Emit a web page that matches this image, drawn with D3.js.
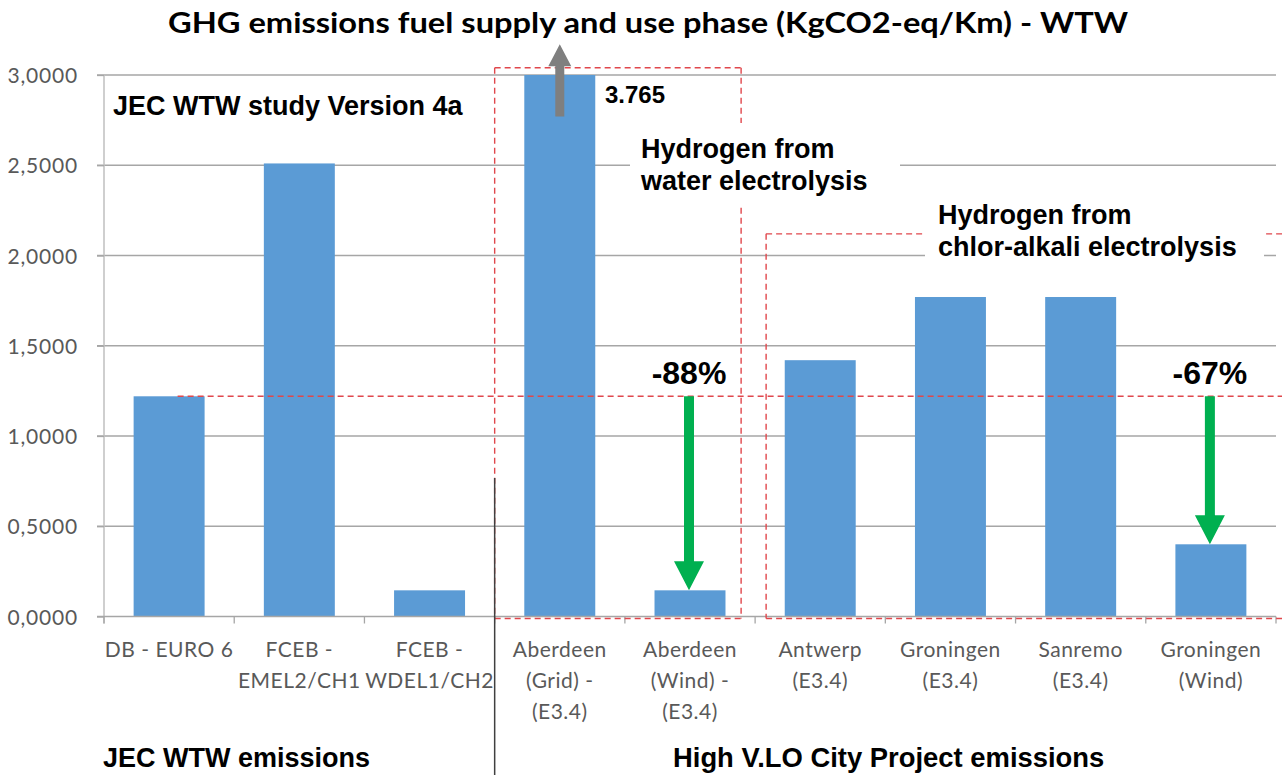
<!DOCTYPE html>
<html>
<head>
<meta charset="utf-8">
<script src="https://cdn.jsdelivr.net/npm/d3@7"></script>
<style>
  body { margin: 0; background: #fff; }
  svg { display: block; }
</style>
</head>
<body>
<div id="chart"></div>
<script>
// categories (label lines) and values
const categories = [
  ["DB - EURO 6"],
  ["FCEB -", "EMEL2/CH1"],
  ["FCEB -", "WDEL1/CH2"],
  ["Aberdeen", "(Grid) -", "(E3.4)"],
  ["Aberdeen", "(Wind) -", "(E3.4)"],
  ["Antwerp", "(E3.4)"],
  ["Groningen", "(E3.4)"],
  ["Sanremo", "(E3.4)"],
  ["Groningen", "(Wind)"]
]
const values = [1.22, 2.51, 0.145, 3.765, 0.145, 1.42, 1.77, 1.77, 0.40]
const yTicks = [0, 0.5, 1, 1.5, 2, 2.5, 3]

// reductions vs the diesel reference (DB - EURO 6)
const reference = 1.22
const reductions = [
  { index: 4, label: "-88%" },
  { index: 8, label: "-67%" }
]

const WIDTH = 1282
const HEIGHT = 775
const MARGIN = { LEFT: 104, RIGHT: 6, TOP: 75, BOTTOM: 158.5 }

const svg = d3.select("#chart").append("svg")
  .attr("width", WIDTH)
  .attr("height", HEIGHT)

const ids = categories.map((c, i) => "c" + i)

const x = d3.scaleBand()
  .domain(ids)
  .range([MARGIN.LEFT, WIDTH - MARGIN.RIGHT])
  .paddingInner(0.455)
  .paddingOuter(0.2275)

const y = d3.scaleLinear()
  .domain([0, 3])
  .range([HEIGHT - MARGIN.BOTTOM, MARGIN.TOP])

const step = x.step()
const bandEdge = i => MARGIN.LEFT + i * step
const y0 = y(0)

const locale = d3.formatLocale({ decimal: ",", thousands: ".", grouping: [3], currency: ["", ""] })
const fmt = locale.format(".4f")

const ARIAL = "'Liberation Sans', Arial, sans-serif"
const CALIBRI = "Lato, 'Open Sans', sans-serif"

// gridlines
svg.append("g")
  .selectAll("line")
  .data(yTicks.filter(d => d > 0))
  .enter().append("line")
  .attr("x1", MARGIN.LEFT - 7)
  .attr("x2", WIDTH - MARGIN.RIGHT)
  .attr("y1", d => y(d))
  .attr("y2", d => y(d))
  .attr("stroke", "#a6a6a6")
  .attr("stroke-width", 1.3)

// y axis
const yAxis = svg.append("g")
  .attr("transform", `translate(${MARGIN.LEFT},0)`)
  .call(d3.axisLeft(y).tickValues(yTicks).tickFormat(fmt).tickSize(7).tickPadding(19))
yAxis.select(".domain").attr("stroke", "#bfbfbf").attr("stroke-width", 1.5)
  .attr("d", `M0,${y(3)}V${y0 + 7}`)
yAxis.selectAll(".tick line").attr("stroke", "#a6a6a6").attr("stroke-width", 1.3)
yAxis.selectAll(".tick text")
  .attr("font-family", CALIBRI)
  .attr("font-size", "21px")
  .attr("letter-spacing", "0.8px")
  .attr("fill", "#595959")
  .attr("dy", "0.36em")

// bars
svg.append("g")
  .selectAll("rect")
  .data(values)
  .enter().append("rect")
  .attr("x", (d, i) => x(ids[i]))
  .attr("width", x.bandwidth())
  .attr("y", d => y(Math.min(d, 3)))
  .attr("height", d => y0 - y(Math.min(d, 3)))
  .attr("fill", "#5b9bd5")

// x axis
const xAxis = svg.append("g")
  .attr("transform", `translate(0,${y0})`)
xAxis.append("line")
  .attr("x1", MARGIN.LEFT - 7).attr("x2", WIDTH - MARGIN.RIGHT)
  .attr("stroke", "#a6a6a6").attr("stroke-width", 1.5)
xAxis.selectAll(".xtick")
  .data(d3.range(categories.length + 1))
  .enter().append("line")
  .attr("x1", i => bandEdge(i)).attr("x2", i => bandEdge(i))
  .attr("y1", 0).attr("y2", 7)
  .attr("stroke", "#a6a6a6").attr("stroke-width", 1.3)

const xLabels = xAxis.selectAll(".xlabel")
  .data(categories)
  .enter().append("text")
  .attr("text-anchor", "middle")
  .attr("font-family", CALIBRI)
  .attr("font-size", "21px")
  .attr("letter-spacing", "0.5px")
  .attr("fill", "#595959")
xLabels.selectAll("tspan")
  .data((d, i) => d.map(line => ({ line, i })))
  .enter().append("tspan")
  .attr("x", d => x(ids[d.i]) + x.bandwidth() / 2)
  .attr("y", (d, j) => 40 + j * 31)
  .text(d => d.line)

// red dashed guides
const red = { stroke: "#e0474c", "stroke-width": 1.4, "stroke-dasharray": "6,4" }
const dashed = (x1, y1, x2, y2) => {
  const l = svg.append("line").attr("x1", x1).attr("y1", y1).attr("x2", x2).attr("y2", y2)
  Object.entries(red).forEach(([k, v]) => l.attr(k, v))
  return l
}
const box1 = { left: bandEdge(3), right: bandEdge(5) - 14, top: y(3.04) }
const box2 = { left: bandEdge(5) + 11, right: WIDTH + 10, top: y(2.12) }
dashed(box1.left, box1.top, box1.right, box1.top)
dashed(box1.left, box1.top, box1.left, y0 + 2)
dashed(box1.right, box1.top, box1.right, y0 + 2)
dashed(box1.left, y0 + 2, box1.right, y0 + 2)
dashed(box2.left, box2.top, box2.right, box2.top)
dashed(box2.left, box2.top, box2.left, y0 + 2)
dashed(box2.left, y0 + 2, box2.right, y0 + 2)
dashed(x(ids[0]) + x.bandwidth() * 0.62, y(reference), WIDTH, y(reference))

// separator between the two groups
svg.append("line")
  .attr("x1", bandEdge(3)).attr("x2", bandEdge(3))
  .attr("y1", 478).attr("y2", HEIGHT)
  .attr("stroke", "#404040").attr("stroke-width", 1.5)

// text boxes with white background
const textBlock = (lines, tx, ty, size, pad) => {
  const g = svg.append("g")
  if (pad) {
    g.append("rect")
      .attr("x", pad.x1).attr("y", pad.y1)
      .attr("width", pad.x2 - pad.x1).attr("height", pad.y2 - pad.y1)
      .attr("fill", "#fff")
  }
  const t = g.append("text")
    .attr("font-family", ARIAL)
    .attr("font-weight", "bold")
    .attr("font-size", size + "px")
    .attr("fill", "#000")
  lines.forEach((line, j) => {
    t.append("tspan").attr("x", tx).attr("y", ty + j * 32).text(line)
  })
  return t
}

textBlock(["JEC WTW study Version 4a"], 113, 115, 27)
textBlock(["Hydrogen from", "water electrolysis"], 641, 158, 27, { x1: 630, y1: 123, x2: 900, y2: 207 })
textBlock(["Hydrogen from", "chlor-alkali electrolysis"], 938, 224, 27, { x1: 925, y1: 196, x2: 1264, y2: 262 })
textBlock(["JEC WTW emissions"], 103, 767, 27)
textBlock(["High V.LO City Project emissions"], 673, 767, 27.4)
textBlock([d3.format(".3f")(values[3])], 605, 103, 24)

// title
svg.append("text")
  .attr("x", 648)
  .attr("y", 33)
  .attr("text-anchor", "middle")
  .attr("font-family", CALIBRI)
  .attr("font-weight", "bold")
  .attr("font-size", "29px")
  .attr("textLength", 960)
  .attr("lengthAdjust", "spacingAndGlyphs")
  .attr("fill", "#000")
  .text("GHG emissions fuel supply and use phase (KgCO2-eq/Km) - WTW")

// arrows
const arrow = (cx, yFrom, yTo, shaft, headW, headH, color) => {
  const dir = yTo > yFrom ? 1 : -1
  const base = yTo - dir * headH
  const p = d3.path()
  p.moveTo(cx - shaft / 2, yFrom)
  p.lineTo(cx - shaft / 2, base)
  p.lineTo(cx - headW / 2, base)
  p.lineTo(cx, yTo)
  p.lineTo(cx + headW / 2, base)
  p.lineTo(cx + shaft / 2, base)
  p.lineTo(cx + shaft / 2, yFrom)
  p.closePath()
  svg.append("path").attr("d", p.toString()).attr("fill", color)
}

// value of Aberdeen (Grid) is off the scale
const cGrid = x(ids[3]) + x.bandwidth() / 2
arrow(cGrid, y(2.77), y(3.17), 9, 23, 22, "#7f7f7f")

reductions.forEach(r => {
  const cx = x(ids[r.index]) + x.bandwidth() / 2 - 1
  arrow(cx, y(reference), y(values[r.index]), 10, 30, 29, "#00b050")
  svg.append("text")
    .attr("x", cx)
    .attr("y", 384)
    .attr("text-anchor", "middle")
    .attr("font-family", ARIAL)
    .attr("font-weight", "bold")
    .attr("font-size", "32px")
    .attr("fill", "#000")
    .text(r.label)
})
</script>
</body>
</html>
